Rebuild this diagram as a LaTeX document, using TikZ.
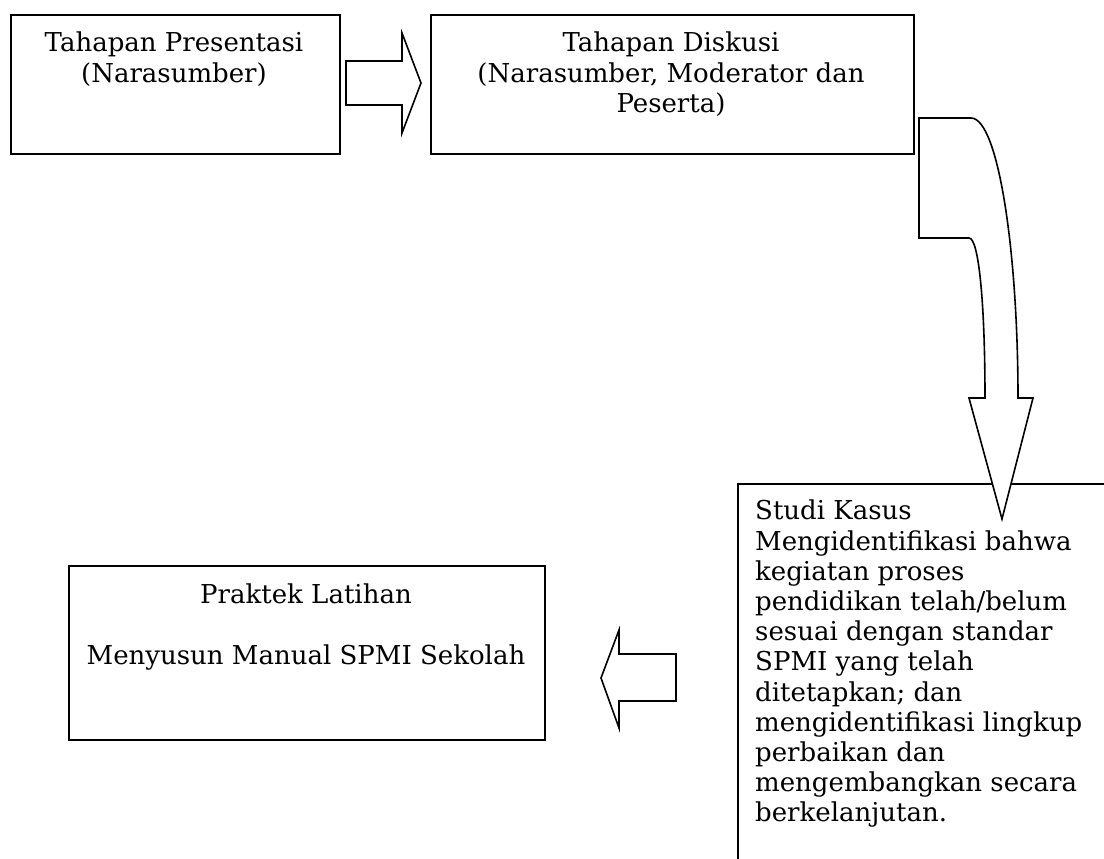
\documentclass[tikz,border=0pt]{standalone}
\usepackage{fontspec}
\setmainfont{DejaVu Serif}
\usetikzlibrary{positioning}

\tikzset{
  stage/.style={draw, line width=2pt, rectangle, inner sep=0pt, anchor=north west},
  stagetext/.style={inner sep=0pt, align=center, font=\fontsize{26}{30.2}\selectfont},
  blockarrow/.style={draw, line width=1.6pt, fill=white, line join=miter},
}

\begin{document}
\begin{tikzpicture}[x=1pt,y=-1pt]
  \useasboundingbox (0,0) rectangle (1104,859);
  \clip (0,0) rectangle (1104,859);

  \node[stage, minimum width=329pt, minimum height=139pt] (presentasi) at (10,14) {};
  \node[stage, minimum width=483pt, minimum height=139pt] (diskusi) at (430,14) {};
  \node[stage, minimum width=476pt, minimum height=174pt] (latihan) at (68,565) {};
  \node[stage, minimum width=420pt, minimum height=420pt] (kasus) at (737,483) {};

  \node[stagetext, anchor=north] (presentasiText) at (174,32)
    {Tahapan Presentasi\\(Narasumber)};
  \node[stagetext, anchor=north] (diskusiText) at (671,32)
    {Tahapan Diskusi\\(Narasumber, Moderator dan\\Peserta)};
  \node[stagetext, anchor=north] (latihanText) at (306,584)
    {Praktek Latihan\\[30.2pt]Menyusun Manual SPMI Sekolah};
  \node[stagetext, align=left, anchor=north west] (kasusText) at (755,500)
    {Studi Kasus\\Mengidentifikasi bahwa\\kegiatan proses\\pendidikan telah/belum\\sesuai dengan standar\\SPMI yang telah\\ditetapkan; dan\\mengidentifikasi lingkup\\perbaikan dan\\mengembangkan secara\\berkelanjutan.};

  % block arrows
  \draw[blockarrow] (346,61) -- (402,61) -- (402,33) -- (421,83) -- (402,133)
    -- (402,105) -- (346,105) -- cycle;
  \draw[blockarrow] (919,118) -- (971,118)
    .. controls (998,118) and (1018,250) .. (1018,398)
    -- (1033,398) -- (1002,519) -- (969,398) -- (985,398)
    .. controls (985,305) and (979,238) .. (969,238)
    -- (919,238) -- cycle;
  \draw[blockarrow] (676,654) -- (619,654) -- (619,630) -- (601,678) -- (619,728)
    -- (619,701) -- (676,701) -- cycle;
\end{tikzpicture}
\end{document}
